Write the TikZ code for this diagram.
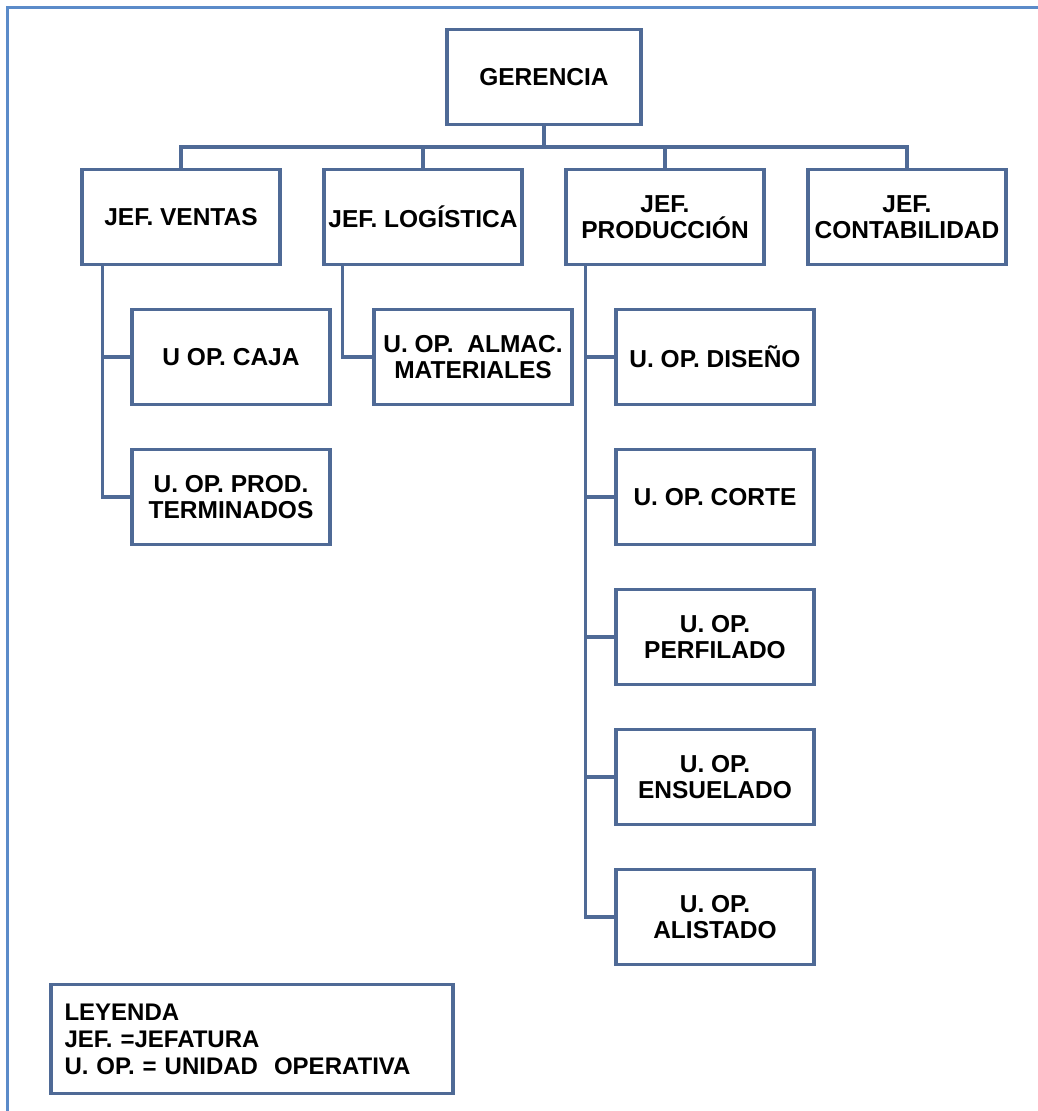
\documentclass[tikz,border=0pt]{standalone}
\usepackage{fontspec}
\setmainfont{Liberation Sans}
\usetikzlibrary{positioning}

\definecolor{boxline}{HTML}{4F6A96}
\definecolor{frameline}{HTML}{5B8BC9}

\tikzset{
  unit/.style={draw=boxline, line width=3.5pt, fill=white, minimum width=198pt,
    minimum height=95pt, align=center, inner sep=2pt,
    font=\fontsize{24.5}{26}\selectfont\bfseries},
  link/.style={draw=boxline, line width=3.5pt}
}

\begin{document}
\begin{tikzpicture}[x=1pt, y=-1pt]
\useasboundingbox (0,0) rectangle (1038,1111);

% Frame
\draw[frameline, line width=3pt] (7,1111) -- (7,7) -- (1038,7);

% Top
\node[unit, minimum width=194pt] (ger) at (544,77) {GERENCIA};

% Jefaturas
\node[unit] (ventas) at (181,217) {JEF. VENTAS};
\node[unit] (logis) at (423,217) {JEF. LOGÍSTICA};
\node[unit] (prod) at (665,217) {JEF.\\PRODUCCIÓN};
\node[unit] (conta) at (907,217) {JEF.\\CONTABILIDAD};

% Unidades operativas
\node[unit] (caja) at (231,357) {U OP. CAJA};
\node[unit] (term) at (231,497) {U. OP. PROD.\\TERMINADOS};
\node[unit] (almac) at (473,357) {U. OP.\ \ ALMAC.\\MATERIALES};
\node[unit] (dise) at (715,357) {U. OP. DISEÑO};
\node[unit] (corte) at (715,497) {U. OP. CORTE};
\node[unit] (perf) at (715,637) {U. OP.\\PERFILADO};
\node[unit] (ensu) at (715,777) {U. OP.\\ENSUELADO};
\node[unit] (alis) at (715,917) {U. OP.\\ALISTADO};

% Bus
\coordinate (bus) at (544,147);
\draw[link] (ger) -- (bus);
\draw[link] (bus) -| (ventas.north);
\draw[link] (bus) -| (logis.north);
\draw[link] (bus) -| (prod.north);
\draw[link] (bus) -| (conta.north);

% Trunks
\coordinate (vt) at ([xshift=22pt]ventas.south west);
\draw[link] (vt) |- (term.west);
\draw[link] (vt |- caja.west) -- (caja.west);

\coordinate (lt) at ([xshift=20pt]logis.south west);
\draw[link] (lt) |- (almac.west);

\coordinate (pt) at ([xshift=21pt]prod.south west);
\draw[link] (pt) |- (alis.west);
\draw[link] (pt |- dise.west) -- (dise.west);
\draw[link] (pt |- corte.west) -- (corte.west);
\draw[link] (pt |- perf.west) -- (perf.west);
\draw[link] (pt |- ensu.west) -- (ensu.west);

% Leyenda
\node[unit, minimum width=402pt, minimum height=109pt, text width=375pt,
  align=left, font=\fontsize{24}{27}\selectfont\bfseries] (ley) at (252,1039)
  {LEYENDA\\JEF. =JEFATURA\\U. OP. = UNIDAD\ \ OPERATIVA};

\end{tikzpicture}
\end{document}
